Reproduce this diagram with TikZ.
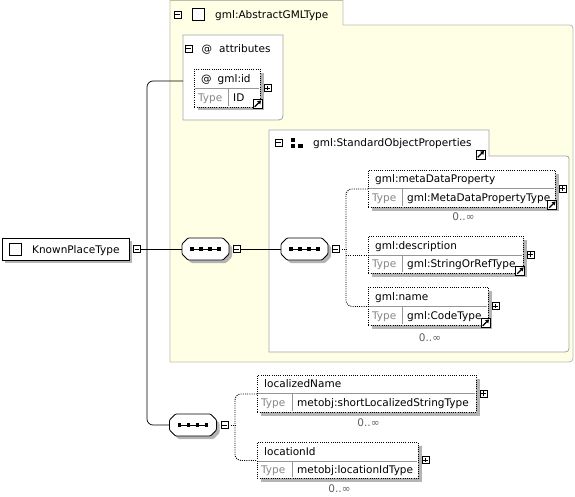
\documentclass[tikz,border=0pt]{standalone}
\usepackage{fontspec}
\setmainfont{DejaVu Sans}
\usetikzlibrary{arrows.meta}
\definecolor{cream}{RGB}{255,255,230}
\definecolor{frame}{RGB}{190,190,175}
\definecolor{boxgray}{RGB}{165,165,165}
\definecolor{shadowc}{RGB}{180,180,180}
\definecolor{typegray}{RGB}{135,135,135}
\definecolor{divgray}{RGB}{150,150,150}
\definecolor{occgray}{RGB}{95,95,95}
\tikzset{
  txt/.style={anchor=base west, inner sep=0, font=\fontsize{10.5}{12}\selectfont},
  occ/.style={anchor=base, inner sep=0, text=occgray, font=\fontsize{10.5}{12}\selectfont},
  pmbox/.style={draw=black, fill=white, line width=0.6pt, minimum size=7pt, inner sep=0},
  elembox/.style={draw=black, fill=white, line width=0.9pt, dash pattern=on 1pt off 1.2pt, inner sep=0},
  divl/.style={draw=divgray, line width=0.6pt},
  conn/.style={draw=black, line width=0.7pt},
  dotc/.style={draw=black, line width=0.9pt, dash pattern=on 1pt off 1.2pt},
}
\newcommand\minusbox[3]{\node[pmbox] (#1) at (#2,#3) {};
  \draw[line width=0.6pt] ([xshift=1.5pt]#1.west) -- ([xshift=-1.5pt]#1.east);}
\newcommand\plusbox[3]{\node[pmbox] (#1) at (#2,#3) {};
  \draw[line width=0.6pt] ([xshift=1.5pt]#1.west) -- ([xshift=-1.5pt]#1.east)
    ([yshift=-1.5pt]#1.north) -- ([yshift=1.5pt]#1.south);}
\newcommand\linkicon[3]{\node[draw=black, fill=white, line width=0.7pt, minimum size=9pt, inner sep=0] (#1) at (#2,#3) {};
  \draw[line width=1.3pt, -{Triangle[length=3.4pt,width=4.2pt]}] ([xshift=2pt,yshift=2pt]#1.south west) -- ([xshift=-1.3pt,yshift=-1.3pt]#1.north east);}
% name, x1, y1, x2, ydiv, y2, xtype, label, type
\newcommand\elem[9]{%
  \fill[shadowc] (#2+4,#3+4) rectangle (#4+4,#6+3.5);
  \node[elembox, anchor=north west, minimum width=#4-#2, minimum height=#6-#3] (#1) at (#2,#3) {};
  \draw[divl] (#2+0.6,#5) -- (#4-0.6,#5);
  \draw[divl] (#7,#5) -- (#7,#6-0.6);
  \node[txt] (#1-lab) at (#2+7,{(#3+#5)/2+3.8}) {#8};
  \node[txt, text=typegray] (#1-tl) at (#2+4,{(#5+#6)/2+3.8}) {Type};
  \node[txt] (#1-tv) at (#7+5,{(#5+#6)/2+3.8}) {#9};
  \plusbox{#1p}{#4+7.5}{{(#3+#6)/2}}%
}
\newcommand\seqbox[3]{%
  \begin{scope}[shift={(#2,#3)}]
    \fill[shadowc, rounded corners=1pt] (-17.5+3,-11+3) -- (17.5+3,-11+3) -- (23.5+3,-5+3) -- (23.5+3,5+3) -- (17.5+3,11+3) -- (-17.5+3,11+3) -- (-23.5+3,5+3) -- (-23.5+3,-5+3) -- cycle;
    \filldraw[fill=white, draw=black, line width=0.8pt, rounded corners=1pt] (-17.5,-11) -- (17.5,-11) -- (23.5,-5) -- (23.5,5) -- (17.5,11) -- (-17.5,11) -- (-23.5,5) -- (-23.5,-5) -- cycle;
    \node[inner sep=0, minimum width=47pt, minimum height=22pt] (#1) at (0,0) {};
    \draw[line width=0.7pt] (-13.5,0) -- (13.5,0);
    \foreach \i in {-13.5,-4.5,4.5,13.5} \fill (\i-1.8,-1.8) rectangle (\i+1.8,1.8);
  \end{scope}}
\begin{document}
\begin{tikzpicture}[x=1pt,y=-1pt]
\useasboundingbox (0,0) rectangle (575,497);
% ---- gml:AbstractGMLType container
\filldraw[fill=cream, draw=frame, line width=0.8pt] (170,0.6) -- (343,0.6) -- (343,25) -- (566,25) .. controls (573,25) .. (573,32) -- (573,354) .. controls (573,362) .. (565,362) -- (170,362) -- cycle;
\minusbox{m0}{177.5}{14.5}
\node[draw=black, fill=white, line width=0.8pt, minimum size=12pt, inner sep=0] (sq0) at (198,14) {};
\node[txt] (t0) at (215,19) {gml:AbstractGMLType};
% ---- attributes
\filldraw[fill=white, draw=boxgray, line width=0.8pt] (183,35) -- (283,35) -- (283,111) .. controls (283,120) .. (274,120) -- (183,120) -- cycle;
\coordinate (attrin) at (183,81);
\minusbox{ma}{188.5}{48.5}
\node[txt] (at1) at (201.5,52.5) {@};
\node[txt] (at2) at (219,52.5) {attributes};
\elem{gid}{194}{69}{260}{88}{107}{228}{@\kern6pt gml:id}{ID}
\linkicon{gidl}{257.5}{104}
% ---- StandardObjectProperties group
\filldraw[fill=white, draw=boxgray, line width=0.8pt] (269,130) -- (489,130) -- (489,156) -- (563,156) .. controls (569,156) .. (569,162) -- (569,344) .. controls (569,352) .. (561,352) -- (269,352) -- cycle;
\minusbox{mg}{278.5}{142.5}
\fill (291,138) rectangle (295,142);
\fill (291,144) rectangle (295,148);
\fill (298,144) rectangle (302.5,148);
\node[txt] (tg) at (313,147) {gml:StandardObjectProperties};
\linkicon{gl}{480.5}{154.5}
\elem{md}{368}{170}{555}{188}{207}{402}{gml:metaDataProperty}{gml:MetaDataPropertyType}
\linkicon{mdl}{552}{205}
\node[occ] (mdo) at (463.5,220) {0..∞};
\elem{ds}{368}{236}{523}{255}{273}{402}{gml:description}{gml:StringOrRefType}
\linkicon{dsl}{520}{271}
\elem{nm}{368}{287}{488}{306.5}{325}{402}{gml:name}{gml:CodeType}
\linkicon{nml}{485.5}{323}
\node[occ] (nmo) at (430,341) {0..∞};
% ---- KnownPlaceType
\fill[shadowc] (5,241) rectangle (132,263);
\node[draw=black, fill=white, line width=0.9pt, anchor=north west, minimum width=127pt, minimum height=22pt, inner sep=0] (kp) at (2,238) {};
\node[draw=black, fill=white, line width=0.8pt, minimum size=12pt, inner sep=0] (kpsq) at (15,249) {};
\node[txt] (kpt) at (32,253.5) {KnownPlaceType};
\minusbox{kpm}{137}{249}
% ---- sequences
\seqbox{s1}{205.5}{249}
\minusbox{m1}{236.5}{249}
\seqbox{s2}{304.5}{249}
\minusbox{m2}{335.5}{249}
\seqbox{s3}{193}{425}
\minusbox{m3}{224.5}{425}
% ---- local elements
\elem{ln}{257}{375}{476}{393}{412}{292}{localizedName}{metobj:shortLocalizedStringType}
\node[occ] (lno) at (368.5,426) {0..∞};
\elem{li}{257}{442}{418}{461.5}{478}{292}{locationId}{metobj:locationIdType}
\node[occ] (lio) at (339.5,492) {0..∞};
% ---- connectors
\coordinate (trunk) at (147,249);
\draw[conn, rounded corners=6pt] (attrin) -| (trunk) |- (s3.west);
\draw[conn] (kpm.east) -- (s1.west);
\draw[conn] (m1.east) -- (s2.west);
\coordinate (j2) at (346,249);
\draw[dotc] (m2.east) -- (j2);
\draw[dotc, rounded corners=6pt] (md.west) -| (j2) |- (nm.west);
\draw[dotc] (j2 |- ds.west) -- (ds.west);
\coordinate (j3) at (235,425);
\draw[dotc] (m3.east) -- (j3);
\draw[dotc, rounded corners=6pt] (ln.west) -| (j3) |- (li.west);
\end{tikzpicture}
\end{document}
